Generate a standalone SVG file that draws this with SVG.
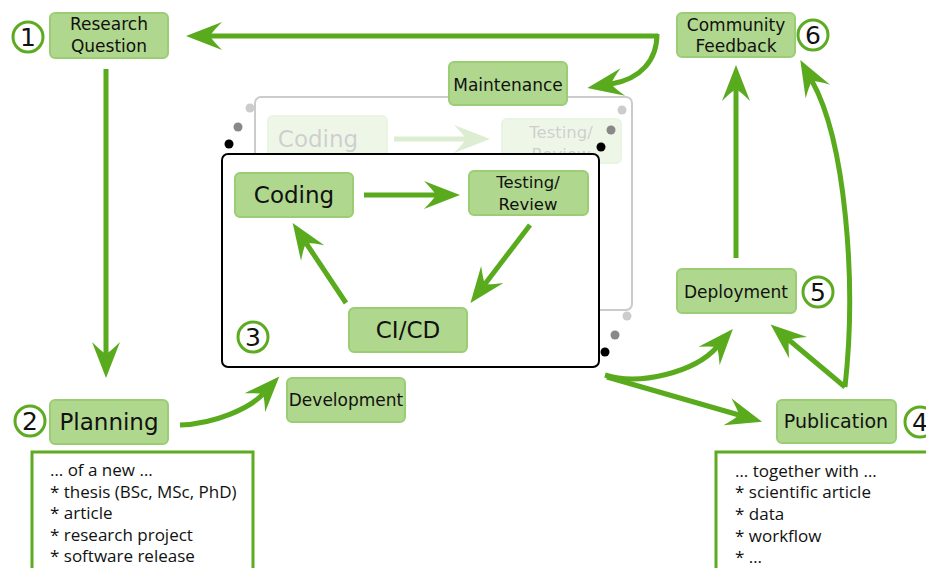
<svg xmlns="http://www.w3.org/2000/svg" width="926" height="568" viewBox="0 0 926 568">
<style>
.node{fill:#b0d78e;stroke:#9acd74;stroke-width:2}
.lbl{font-family:"DejaVu Sans",sans-serif;fill:#111;text-anchor:middle}
.s{font-size:17px}
.b{font-size:23px}
.num circle{fill:#fff;stroke:#5dab21;stroke-width:3}
.num text{font-family:"DejaVu Sans",sans-serif;font-size:25px;fill:#111;text-anchor:middle}
.list rect{fill:#fff;stroke:#5dab21;stroke-width:3}
.list text{font-family:"Open Sans",sans-serif;font-size:17px;fill:#111}
.arr{fill:none;stroke:#5aaa1e;stroke-width:5;marker-end:url(#ah)}
</style>
<defs>
<marker id="ah" markerUnits="userSpaceOnUse" viewBox="-14 -16 40 32" markerWidth="40" markerHeight="32" refX="0" refY="0" orient="auto" overflow="visible">
<path d="M24,0 L-12,-14 Q-3,-5 0,0 Q-3,5 -12,14 Z" fill="#5aaa1e"/>
</marker>
</defs>
<rect width="926" height="568" fill="#fff"/>

<!-- ghost (previous iteration) -->
<g id="ghost" opacity="0.2">
<rect x="255" y="97" width="377" height="213" rx="6" fill="#fff" stroke="#000" stroke-width="2"/>
<rect class="node" x="268" y="116" width="119" height="45" rx="5"/>
<text class="lbl b" x="318" y="147">Coding</text>
<path class="arr" d="M394,139 L466,139"/>
<rect class="node" x="502" y="119" width="119" height="44" rx="5"/>
<text class="lbl s" x="561" y="138" style="font-size:16.5px">Testing/</text>
<text class="lbl s" x="561" y="160" style="font-size:16.5px">Review</text>
</g>

<g id="dots">
<circle cx="250" cy="108" r="4.5" fill="#ccc"/>
<circle cx="238" cy="127" r="4.5" fill="#888"/>
<circle cx="229" cy="144" r="4.5" fill="#000"/>
<circle cx="622" cy="110" r="4.5" fill="#ccc"/>
<circle cx="611" cy="130" r="4.5" fill="#888"/>
<circle cx="601" cy="147" r="4.5" fill="#000"/>
<circle cx="627" cy="316" r="4.5" fill="#ccc"/>
<circle cx="615" cy="335" r="4.5" fill="#888"/>
<circle cx="605" cy="352" r="4.5" fill="#000"/>
</g>

<g id="development-frame">
<rect x="222" y="154" width="377" height="213" rx="6" fill="#fff" stroke="#000" stroke-width="2"/>
<g class="num"><circle cx="253" cy="337" r="15"/><text x="253" y="346">3</text></g>
</g>

<g id="connectors">
<path class="arr" d="M658,36 L210,36"/>
<path class="arr" d="M657,34 C657,60 641,79 611,84"/>
<path class="arr" d="M106,69 L106,354"/>
<path class="arr" d="M180,425 C215,424 250,408 263,394"/>
<path class="arr" d="M364,195 L436,195"/>
<path class="arr" d="M530,225 L485,284"/>
<path class="arr" d="M346,303 L306,243"/>
<path class="arr" d="M605,375 C640,386 695,372 717,347"/>
<path class="arr" d="M607,377 L739,415"/>
<path class="arr" d="M845,387 L789,340"/>
<path class="arr" d="M845,387 C857,280 845,140 812,81"/>
<path class="arr" d="M736,258 L736,89"/>
</g>

<g id="research-question">
<rect class="node" x="50" y="13" width="118" height="45" rx="5"/>
<text class="lbl s" x="109" y="30">Research</text>
<text class="lbl s" x="109" y="52">Question</text>
<g class="num"><circle cx="28" cy="37" r="15"/><text x="28" y="46">1</text></g>
</g>

<g id="planning">
<rect class="node" x="50" y="400" width="118" height="44" rx="5"/>
<text class="lbl b" x="109" y="430">Planning</text>
<g class="num"><circle cx="30" cy="421" r="15"/><text x="30" y="430">2</text></g>
</g>

<g id="planning-list" class="list">
<rect x="32" y="452" width="221" height="130"/>
<text x="50" y="476">… of a new …</text>
<text x="50" y="498">* thesis (BSc, MSc, PhD)</text>
<text x="50" y="519">* article</text>
<text x="50" y="541">* research project</text>
<text x="50" y="562">* software release</text>
</g>

<g id="development">
<rect class="node" x="287" y="378" width="118" height="44" rx="5"/>
<text class="lbl s" x="346" y="406">Development</text>
</g>

<g id="maintenance">
<rect class="node" x="449" y="62" width="118" height="43" rx="5"/>
<text class="lbl s" x="508" y="91">Maintenance</text>
</g>

<g id="coding">
<rect class="node" x="235" y="173" width="118" height="44" rx="5"/>
<text class="lbl b" x="294" y="203">Coding</text>
</g>

<g id="testing-review">
<rect class="node" x="469" y="171" width="119" height="44" rx="5"/>
<text class="lbl s" x="528" y="188" style="font-size:16.5px">Testing/</text>
<text class="lbl s" x="528" y="210" style="font-size:16.5px">Review</text>
</g>

<g id="cicd">
<rect class="node" x="349" y="308" width="118" height="44" rx="5"/>
<text class="lbl b" x="408" y="338">CI/CD</text>
</g>

<g id="deployment">
<rect class="node" x="677" y="269" width="119" height="44" rx="5"/>
<text class="lbl s" x="736" y="298">Deployment</text>
<g class="num"><circle cx="818" cy="292" r="15"/><text x="818" y="301">5</text></g>
</g>

<g id="publication">
<rect class="node" x="777" y="400" width="119" height="43" rx="5"/>
<text class="lbl" x="836" y="428" style="font-size:19px">Publication</text>
<g class="num"><circle cx="920" cy="422" r="15"/><text x="920" y="431">4</text></g>
</g>

<g id="publication-list" class="list">
<rect x="716" y="452" width="240" height="130"/>
<text x="735" y="477">… together with …</text>
<text x="735" y="498">* scientific article</text>
<text x="735" y="520">* data</text>
<text x="735" y="542">* workflow</text>
<text x="735" y="563">* …</text>
</g>

<g id="community-feedback">
<rect class="node" x="677" y="13" width="118" height="44" rx="5"/>
<text class="lbl s" x="736" y="31">Community</text>
<text class="lbl s" x="736" y="52">Feedback</text>
<g class="num"><circle cx="813" cy="35" r="15"/><text x="813" y="44">6</text></g>
</g>
</svg>
